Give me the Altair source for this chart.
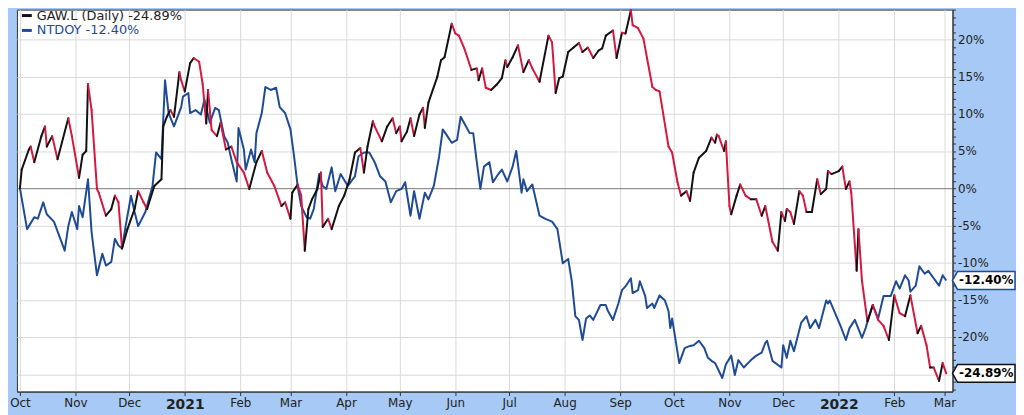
import altair as alt
import pandas as pd

START = "2020-10-01"

# GAW.L (% change since start), x = days after START
gaw_day = [
    0, 1, 5, 6, 8, 12, 14, 15, 18, 21,
    27, 29, 33, 35, 37, 38, 40, 43, 44, 48,
    51, 53, 55, 57, 60, 64, 66, 69, 71, 75,
    79, 80, 82, 84, 86, 89, 90, 92, 95, 97,
    100, 102, 104, 105, 107, 110, 112, 115, 118, 121,
    125, 128, 132, 135, 138, 142, 146, 148, 151, 152,
    155, 157, 159, 161, 163, 166, 168, 169, 172, 174,
    178, 181, 184, 187, 190, 192, 194, 197, 198, 202,
    205, 208, 210, 212, 213, 216, 218, 220, 223, 225,
    226, 228, 233, 235, 237, 241, 243, 245, 248, 252,
    255, 256, 258, 260, 263, 266, 269, 271, 272, 275,
    278, 281, 284, 286, 290, 295, 297, 299, 301, 303,
    306, 309, 312, 314, 317, 320, 323, 325, 327, 331,
    333, 336, 338, 341, 342, 345, 348, 350, 353, 355,
    357, 362, 364, 367, 369, 372, 374, 376, 379, 383,
    386, 388, 389, 390, 393, 394, 396, 397, 400, 402,
    405, 408, 411, 414, 416, 420, 423, 425, 427, 428,
    430, 432, 435, 437, 439, 442, 445, 447, 450, 451,
    453, 457, 459, 461, 463, 464, 467, 468, 470, 473,
    476, 479, 482, 485, 488, 491, 494, 497, 501, 503,
    506, 508, 510, 513, 515, 517,
]
gaw_pct = [
    0, 2.5, 5.2, 5.6, 3.5, 7.0, 8.3, 5.6, 7.0, 3.9,
    9.4, 7.0, 1.4, 4.5, 5.0, 14.0, 10.5, -0.1, -0.6, -3.7,
    -2.8, -1.0, -1.9, -8.1, -5.5, -2.8, -0.4, -1.9, -2.8, 0.3,
    1.2, 8.3, 9.6, 10.5, 9.6, 15.6, 14.5, 13.0, 16.8, 17.5,
    17.0, 14.0, 8.7, 13.2, 7.8, 7.0, 8.8, 5.2, 5.6, 3.5,
    2.1, -0.1, 3.5, 5.0, 2.1, 0.3, -2.4, -1.9, -4.1, -0.6,
    0.5, -1.0, -8.4, -2.8, -1.5, -0.1, 2.1, -5.2, -4.1, -5.5,
    -2.4, -1.0, 1.2, 4.8, 5.4, 2.1, 5.6, 9.0, 8.3, 6.3,
    8.3, 9.4, 7.4, 8.3, 6.3, 7.6, 9.4, 7.0, 9.9, 10.8,
    8.1, 11.5, 15.0, 17.2, 17.6, 22.1, 20.8, 20.5, 18.8, 15.9,
    16.1, 14.5, 16.1, 13.5, 13.2, 13.9, 14.8, 17.2, 16.3, 17.6,
    19.2, 15.6, 17.2, 16.1, 14.3, 20.5, 19.6, 12.8, 14.8, 15.0,
    18.3, 18.9, 19.5, 18.3, 18.9, 17.5, 18.5, 18.8, 20.5, 21.2,
    17.5, 20.9, 20.8, 23.9, 21.9, 21.5, 20.1, 17.5, 13.6, 13.2,
    13.0, 5.6, 4.8, 0.8, -1.0, -0.4, -1.7, 2.1, 4.1, 5.0,
    6.8, 6.1, 7.2, 7.0, 5.0, 6.3, -2.4, -3.5, -1.0, 0.5,
    -1.0, -1.5, -1.5, -3.7, -2.4, -7.2, -8.4, -3.2, -4.4, -2.8,
    -3.2, -4.8, -0.4, -1.0, -3.2, -3.2, 1.2, -0.8, -0.1, 2.3,
    1.9, 2.3, 2.9, -0.1, 0.9, -0.6, -11.1, -5.5, -12.5, -17.9,
    -15.7, -17.7, -18.5, -20.4, -14.4, -16.8, -17.2, -14.4, -19.5, -18.5,
    -21.1, -24.1, -24.1, -25.9, -23.5, -24.89,
]

# NTDOY (% change since start)
ntdoy_day = [
    0, 4, 8, 10, 13, 15, 19, 25, 27, 29,
    32, 33, 35, 38, 40, 43, 46, 48, 51, 53,
    55, 57, 59, 62, 64, 66, 70, 74, 76, 79,
    81, 83, 86, 90, 91, 94, 95, 98, 101, 103,
    106, 109, 111, 114, 116, 118, 121, 122, 125, 126,
    129, 131, 132, 135, 137, 140, 143, 145, 148, 151,
    153, 155, 157, 160, 162, 164, 167, 169, 171, 174,
    176, 179, 183, 187, 189, 192, 195, 198, 201, 204,
    207, 210, 213, 215, 218, 220, 223, 226, 228, 231,
    234, 236, 238, 241, 244, 246, 249, 251, 253, 255,
    257, 259, 262, 264, 267, 269, 272, 275, 277, 280,
    281, 283, 286, 290, 293, 297, 300, 303, 306, 308,
    310, 312, 314, 316, 318, 320, 324, 327, 328, 331,
    334, 336, 338, 341, 342, 345, 346, 349, 350, 353,
    354, 357, 360, 362, 363, 364, 368, 371, 374, 376,
    379, 382, 384, 386, 388, 390, 392, 394, 397, 399,
    401, 404, 408, 411, 414, 416, 417, 420, 425, 426,
    428, 430, 432, 436, 439, 441, 444, 446, 450, 451,
    452, 458, 461, 463, 466, 470, 472, 476, 479, 482,
    486, 489, 491, 494, 496, 497, 500, 502, 505, 507,
    510, 513, 515, 517,
]
ntdoy_pct = [
    0, -5.5, -3.9, -4.1, -1.9, -3.5, -4.5, -8.4, -5.1, -3.2,
    -5.5, -2.4, -3.9, 1.2, -5.9, -11.7, -8.8, -10.4, -9.9, -6.8,
    -7.7, -8.1, -5.1, -1.0, -3.2, -5.1, -3.2, 0.3, 4.8, 3.9,
    14.5, 10.1, 8.3, 10.9, 12.3, 12.8, 10.1, 10.5, 9.9, 11.9,
    8.8, 10.8, 10.5, 7.0, 6.1, 3.9, 0.9, 8.1, 5.2, 2.5,
    5.2, 3.5, 7.4, 10.1, 13.6, 13.2, 13.5, 10.9, 10.1, 7.9,
    4.3, 0.3, -2.4, -3.9, -4.1, -2.8, 1.9, 0.3, -0.1, 2.8,
    -0.4, 1.9, 0.3, 1.6, 4.3, 4.8, 4.8, 3.5, 1.6, 0.9,
    -1.9, -0.4, -0.1, 0.8, -3.7, -0.4, -4.1, -0.6, -1.5, 0.3,
    4.3, 7.9, 7.2, 6.1, 6.5, 9.6, 8.3, 7.4, 7.4, 3.5,
    -0.1, 2.9, 3.5, 0.8, 1.9, 2.5, 0.9, 2.9, 5.0, -0.6,
    1.2, -0.4, 0.5, -3.7, -4.1, -4.5, -5.5, -10.1, -9.5, -12.5,
    -17.2, -17.7, -20.4, -17.5, -17.1, -17.7, -15.7, -15.7, -16.4, -17.7,
    -15.5, -13.7, -13.2, -12.1, -14.1, -13.7, -12.5, -14.5, -16.1, -15.5,
    -16.1, -14.4, -15.1, -16.5, -18.8, -17.5, -23.5, -21.5, -21.2, -21.1,
    -20.5, -21.5, -22.8, -23.2, -23.5, -24.5, -25.5, -23.7, -22.5, -25.1,
    -23.1, -24.1, -23.1, -22.5, -22.1, -20.8, -20.5, -23.2, -24.1, -21.1,
    -22.8, -20.5, -21.9, -18.1, -17.2, -18.8, -17.7, -18.8, -15.1, -15.5,
    -15.1, -18.5, -20.4, -18.8, -17.7, -20.1, -18.8, -15.7, -17.5, -14.5,
    -14.5, -12.5, -13.5, -11.7, -12.4, -13.9, -13.1, -10.5, -11.5, -11.1,
    -12.1, -13.1, -11.7, -12.4,
]

month_ticks = [
    "2020-10-01", "2020-11-01", "2020-12-01", "2021-01-01", "2021-02-01",
    "2021-03-01", "2021-04-01", "2021-05-01", "2021-06-01", "2021-07-01",
    "2021-08-01", "2021-09-01", "2021-10-01", "2021-11-01", "2021-12-01",
    "2022-01-01", "2022-02-01", "2022-03-01",
]
pct_ticks = list(range(-27, 25))
series_names = ["GAW.L", "NTDOY"]
legend_labels = ["GAW.L (Daily) -24.89%", "NTDOY -12.40%"]
last_values = [-24.89, -12.40]
last_labels = ["-24.89%", "-12.40%"]

# ---------------------------------------------------------------------------
base = pd.Timestamp(START)


def to_dates(days):
    return [(base + pd.Timedelta(days=d)).strftime("%Y-%m-%d") for d in days]


gaw = pd.DataFrame({"date": to_dates(gaw_day), "pct": gaw_pct})
seg = gaw.copy()
seg["date2"] = seg["date"].shift(-1)
seg["pct2"] = seg["pct"].shift(-1)
seg = seg.dropna()
seg["dir"] = ["down" if b < a else "up" for a, b in zip(seg["pct"], seg["pct2"])]

ntdoy = pd.DataFrame({"date": to_dates(ntdoy_day), "pct": ntdoy_pct})

tags = pd.DataFrame({"series": series_names, "pct": last_values, "label": last_labels})


def ms(s):
    return int(pd.Timestamp(s, tz="UTC").value // 10**6)


x_scale = alt.Scale(type="utc", domain=[ms("2020-09-29 08:00"), ms("2022-03-05 12:00")], nice=False)
y_scale = alt.Scale(domain=[-27.33, 24.0], nice=False, zero=False)

FONT = "DejaVu Sans"
is_jan = "utcFormat(datum.value, '%m') == '01'"

x_axis = alt.Axis(
    values=[ms(m) for m in month_ticks],
    tickCount=100,
    labelExpr=f"{is_jan} ? utcFormat(datum.value, '%Y') : utcFormat(datum.value, '%b')",
    labelFontWeight={"condition": {"test": is_jan, "value": "bold"}, "value": "normal"},
    labelFontSize={"condition": {"test": is_jan, "value": 14}, "value": 12},
    labelFont=FONT,
    labelColor="#222222",
    labelPadding=2,
    labelOverlap=False,
    labelFlush=False,
    tickSize=4,
    tickColor="#333333",
    domainColor="#333333",
    grid=True,
    gridColor="#d9d9d9",
    title=None,
)

y_axis = alt.Axis(
    orient="right",
    values=pct_ticks,
    tickCount=200,
    labelExpr="(datum.value % 5 == 0 && datum.value >= -20 && datum.value <= 20) ? datum.value + '%' : ''",
    labelFont=FONT,
    labelFontSize=12,
    labelColor="#222222",
    labelAlign="left",
    labelPadding=2,
    labelOverlap=False,
    labelFlush=False,
    tickSize=3,
    tickColor="#333333",
    domainColor="#333333",
    grid=True,
    gridColor={"condition": {"test": "datum.value == 0", "value": "#777777"}, "value": "#d9d9d9"},
    gridOpacity={"condition": {"test": "datum.value % 5 == 0", "value": 1}, "value": 0},
    title=None,
)

line_colors = alt.Scale(domain=series_names, range=["#111111", "#1f4b94"])

ntdoy_line = alt.Chart(ntdoy).mark_line(color="#1f4b94", strokeWidth=2, strokeJoin="round").encode(
    x=alt.X("date:T", scale=x_scale, axis=x_axis),
    y=alt.Y("pct:Q", scale=y_scale, axis=y_axis),
)

gaw_rules = alt.Chart(seg).mark_rule(strokeWidth=2, strokeCap="round").encode(
    x=alt.X("date:T", scale=x_scale, title=None),
    x2="date2:T",
    y=alt.Y("pct:Q", scale=y_scale, title=None),
    y2="pct2:Q",
    color=alt.Color("dir:N", scale=alt.Scale(domain=["up", "down"], range=["#111111", "#d6173f"]), legend=None),
)

# legend (top-left)
leg1 = pd.DataFrame({"label": [legend_labels[0]]})
leg2 = pd.DataFrame({"label": [legend_labels[1]]})
leg1_dash = alt.Chart(leg1).mark_rule(color="#111111", strokeWidth=3).encode(
    x=alt.value(5), x2=alt.value(15), y=alt.value(6))
leg1_text = alt.Chart(leg1).mark_text(align="left", baseline="middle", font=FONT, fontSize=13, color="#222222").encode(
    x=alt.value(20), y=alt.value(6), text="label:N")
leg2_dash = alt.Chart(leg2).mark_rule(color="#1f4b94", strokeWidth=3).encode(
    x=alt.value(5), x2=alt.value(15), y=alt.value(21))
leg2_text = alt.Chart(leg2).mark_text(align="left", baseline="middle", font=FONT, fontSize=13, color="#1f4b94").encode(
    x=alt.value(20), y=alt.value(21), text="label:N")

# last-value tags on the right axis
TAG = "M -1 0 L -0.84 -0.286 L 1 -0.286 L 1 0.286 L -0.84 0.286 Z"
tag_box = alt.Chart(tags).mark_point(shape=TAG, size=3969, filled=True, fill="white", strokeWidth=1.5, opacity=1).encode(
    x=alt.value(974.5),
    y=alt.Y("pct:Q", scale=y_scale, title=None),
    stroke=alt.Stroke("series:N", scale=line_colors, legend=None),
)
tag_text = alt.Chart(tags).mark_text(font=FONT, fontSize=12, fontWeight="bold", color="#000000",
                                     align="center", baseline="middle").encode(
    x=alt.value(977),
    y=alt.Y("pct:Q", scale=y_scale, title=None),
    text="label:N",
)

chart = alt.layer(
    ntdoy_line, gaw_rules, leg1_dash, leg1_text, leg2_dash, leg2_text, tag_box, tag_text
).properties(
    width=943,
    height=385,
    autosize=alt.AutoSizeParams(type="none"),
    padding={"left": 9, "top": 0, "right": 64, "bottom": 22},
    background="#a6c9f5",
).configure(
    font=FONT
).configure_view(
    fill="white", stroke="#333333", strokeWidth=1
)

chart.save("out.html", embed_options={"renderer": "svg", "actions": False})
